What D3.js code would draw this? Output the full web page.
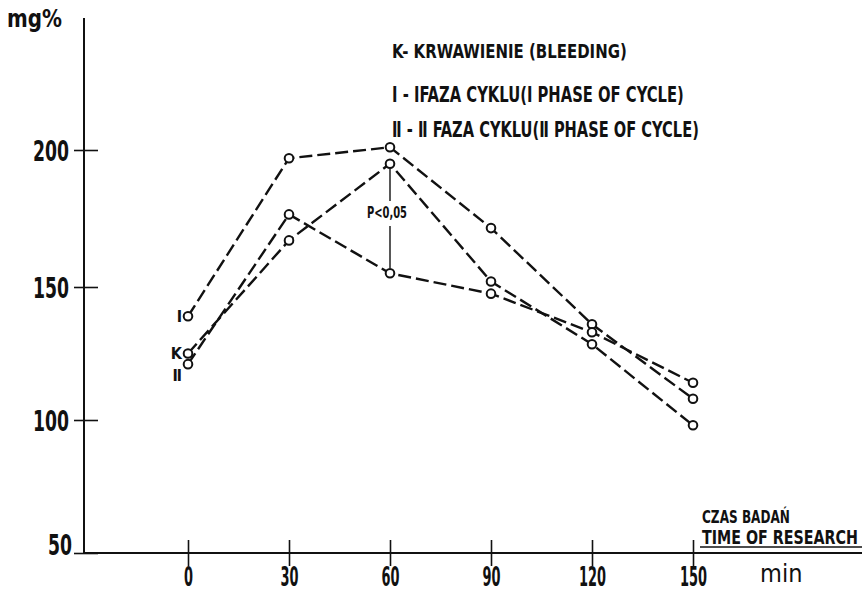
<!DOCTYPE html>
<html>
<head>
<meta charset="utf-8">
<script src="https://cdn.jsdelivr.net/npm/d3@7"></script>
<style>
  body { margin: 0; background: #fff; }
  svg text { font-family: "Liberation Sans Narrow", "DejaVu Sans Condensed", "Liberation Sans", sans-serif; font-weight: bold; fill: #111; }
</style>
</head>
<body>
<div class="chart"></div>
<script>
// dane (mg%)
const times = [0, 30, 60, 90, 120, 150];
const yTicks = [50, 100, 150, 200];
const seriesNames = ['Ⅰ', 'K', 'Ⅱ'];
const valuesI = [139, 197, 201, 171.5, 136, 108];
const valuesK = [125, 167, 195, 152, 128.5, 98];
const valuesII = [121, 176.5, 155, 147.5, 133, 114];
const legendLines = [
  'K- KRWAWIENIE (BLEEDING)',
  'Ⅰ - ⅠFAZA CYKLU(Ⅰ PHASE OF CYCLE)',
  'Ⅱ - Ⅱ FAZA CYKLU(Ⅱ PHASE OF CYCLE)'
];
const pLabel = 'P<0,05';

const series = [valuesI, valuesK, valuesII].map((vals, i) => ({
  name: seriesNames[i],
  values: vals.map((v, j) => ({ t: times[j], v: v }))
}));

const svg_width = 867, svg_height = 596;
const axisX = 84, axisY = 553;

const svg = d3.select('.chart').append('svg')
  .attr('width', svg_width).attr('height', svg_height);

// skale (oś Y rysowana ręcznie, stąd kilka punktów)
const xScale = d3.scaleLinear().domain([0, 150]).range([188, 693]);
const yScale = d3.scaleLinear().domain([50, 100, 150, 200]).range([553, 420, 287, 150]);

// ściśnięcie tekstu do zadanej szerokości (skala w poziomie)
function fitText(x, y, txt, size, w) {
  const t = svg.append('text').attr('x', 0).attr('y', 0).style('font-size', size + 'px').text(txt);
  const s = w / t.node().getComputedTextLength();
  t.attr('transform', `translate(${x},${y}) scale(${s},1)`);
  return t;
}

// osie
svg.append('line').attr('x1', axisX).attr('x2', axisX).attr('y1', 18).attr('y2', axisY)
  .style('stroke', '#111').style('stroke-width', 2);
svg.append('line').attr('x1', axisX).attr('x2', 862).attr('y1', axisY).attr('y2', axisY)
  .style('stroke', '#111').style('stroke-width', 2);

const yAxis = d3.axisLeft(yScale).tickValues(yTicks).tickSizeOuter(0);
const yG = svg.append('g').attr('class', 'y axis')
  .attr('transform', `translate(${axisX},0)`).call(yAxis);
yG.select('.domain').remove();
yG.selectAll('.tick line').attr('x1', -10).attr('x2', 14)
  .style('stroke', '#111').style('stroke-width', 1.6);
yG.selectAll('.tick text').attr('x', -15).attr('dy', '0.35em')
  .style('font-size', '29px').style('fill', '#111')
  .style('font-family', '"Liberation Sans Narrow", "DejaVu Sans Condensed", sans-serif')
  .attr('textLength', d => String(d).length * 12).attr('lengthAdjust', 'spacingAndGlyphs');
yG.selectAll('.tick').filter(d => d === 50).select('text').attr('dy', '0.05em').attr('x', -12);

const xAxis = d3.axisBottom(xScale).tickValues(times).tickSizeOuter(0);
const xG = svg.append('g').attr('class', 'x axis')
  .attr('transform', `translate(0,${axisY})`).call(xAxis);
xG.select('.domain').remove();
xG.selectAll('.tick line').attr('y1', -13).attr('y2', 13)
  .style('stroke', '#111').style('stroke-width', 1.6);
xG.selectAll('.tick text').attr('y', 15).attr('dy', '0.71em')
  .style('font-size', '26px').style('fill', '#111')
  .style('font-family', '"Liberation Sans Narrow", "DejaVu Sans Condensed", sans-serif')
  .attr('textLength', d => String(d).length * 9).attr('lengthAdjust', 'spacingAndGlyphs');

// linie serii
const lineGen = d3.line().x(d => xScale(d.t)).y(d => yScale(d.v));
const chartG = svg.append('g').attr('class', 'line-chart');
chartG.selectAll('.line-series').data(series).enter()
  .append('path').attr('class', 'line-series')
  .attr('d', d => lineGen(d.values))
  .style('fill', 'none').style('stroke', '#111')
  .style('stroke-width', 2.4).style('stroke-dasharray', '13,5');

// p<0.05 pomiedzy K i II w 60 min
const pX = xScale(60);
const pMid = (valuesK[2] + valuesII[2]) / 2 + 2;
chartG.append('line').attr('x1', pX).attr('x2', pX)
  .attr('y1', yScale(valuesK[2]) + 5).attr('y2', yScale(pMid) - 12)
  .style('stroke', '#111').style('stroke-width', 1.4);
chartG.append('line').attr('x1', pX).attr('x2', pX)
  .attr('y1', yScale(pMid) + 13).attr('y2', yScale(valuesII[2]) - 5)
  .style('stroke', '#111').style('stroke-width', 1.4);
chartG.append('text').attr('x', pX - 3).attr('y', yScale(pMid))
  .attr('text-anchor', 'middle').style('dominant-baseline', 'central')
  .style('font-size', '15px').attr('textLength', 40).attr('lengthAdjust', 'spacingAndGlyphs')
  .text(pLabel);

// punkty
chartG.selectAll('.pts').data(series).enter().append('g')
  .selectAll('circle').data(d => d.values).enter()
  .append('circle')
  .attr('cx', d => xScale(d.t)).attr('cy', d => yScale(d.v)).attr('r', 4.3)
  .style('fill', '#fff').style('stroke', '#111').style('stroke-width', 2);

// etykiety serii przy pierwszym punkcie
const labelDy = { 'Ⅰ': 0, 'K': 0, 'Ⅱ': 11 };
chartG.selectAll('.series-label').data(series).enter()
  .append('text').attr('class', 'series-label')
  .attr('x', d => xScale(d.values[0].t) - 6)
  .attr('y', d => yScale(d.values[0].v) + labelDy[d.name])
  .attr('text-anchor', 'end').style('dominant-baseline', 'central')
  .style('font-size', '16px').style('font-family', '"DejaVu Sans Condensed", sans-serif')
  .text(d => d.name);

// legenda
const legendY = [58, 102, 137];
const legendW = [235, 292, 307];
legendLines.forEach((d, i) => fitText(392, legendY[i], d, i === 0 ? 20 : 22, legendW[i]));

// opisy osi
fitText(7, 27, 'mg%', 25, 55);
fitText(702, 523, 'CZAS BADAŃ', 17, 88);
fitText(702, 544, 'TIME OF RESEARCH', 19, 156);
svg.append('line').attr('x1', 700).attr('x2', 862).attr('y1', 547).attr('y2', 547)
  .style('stroke', '#111').style('stroke-width', 1.6);
svg.append('text').attr('x', 760).attr('y', 582).style('font-size', '25px')
  .style('font-weight', 'normal').text('min');
</script>
</body>
</html>
